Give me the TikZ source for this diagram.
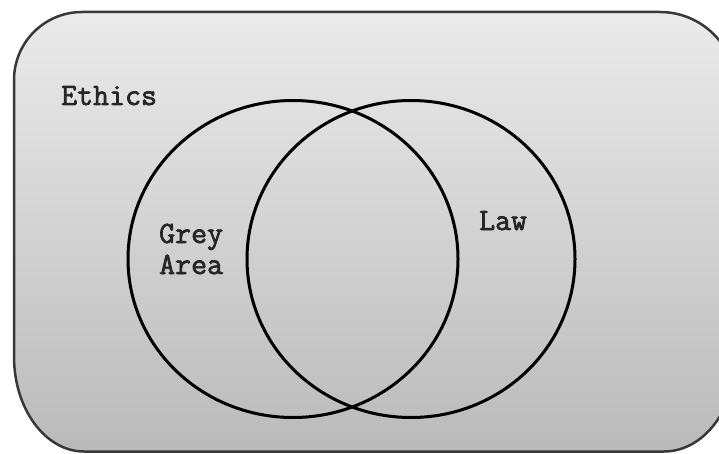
\documentclass[tikz,border=0pt]{standalone}
\usepackage{fontspec}
\usetikzlibrary{shapes.geometric}
\newfontfamily\labelfont{Latin Modern Mono}[FakeBold=2.2]
\begin{document}
\begin{tikzpicture}[x=1pt,y=1pt,
  venn/.style={draw=black,line width=3pt},
  lbl/.style={font=\labelfont\fontsize{31}{34}\selectfont,inner sep=0pt,text=black!85}]
\useasboundingbox (0,0) rectangle (719,453);
\fill[white] (0,0) rectangle (719,453);
\begin{scope}
\clip (0,0) rectangle (719,453);
\path[top color=black!8,bottom color=black!27,draw=black!78,line width=2.5pt]
  (82,441) -- (660,441) arc[start angle=90,end angle=0,radius=76]
  -- (736,96.5) arc[start angle=0,end angle=-90,x radius=72,y radius=95]
  -- (84,1.5) arc[start angle=270,end angle=180,x radius=70,y radius=95]
  -- (14,373) arc[start angle=180,end angle=90,radius=68] -- cycle;
\end{scope}
\node[venn,ellipse,minimum width=330pt,minimum height=317pt,inner sep=0pt] (grey) at (293,194) {};
\node[venn,ellipse,minimum width=328pt,minimum height=317pt,inner sep=0pt] (law) at (411,194) {};
\node[lbl,anchor=base west] (ethics) at (61,348) {Ethics};
\node[lbl,anchor=base west] (greyt) at (159,210) {Grey};
\node[lbl,anchor=base west] (areat) at (159,179) {Area};
\node[lbl,anchor=base west] (lawt) at (479,223) {Law};
\end{tikzpicture}
\end{document}
